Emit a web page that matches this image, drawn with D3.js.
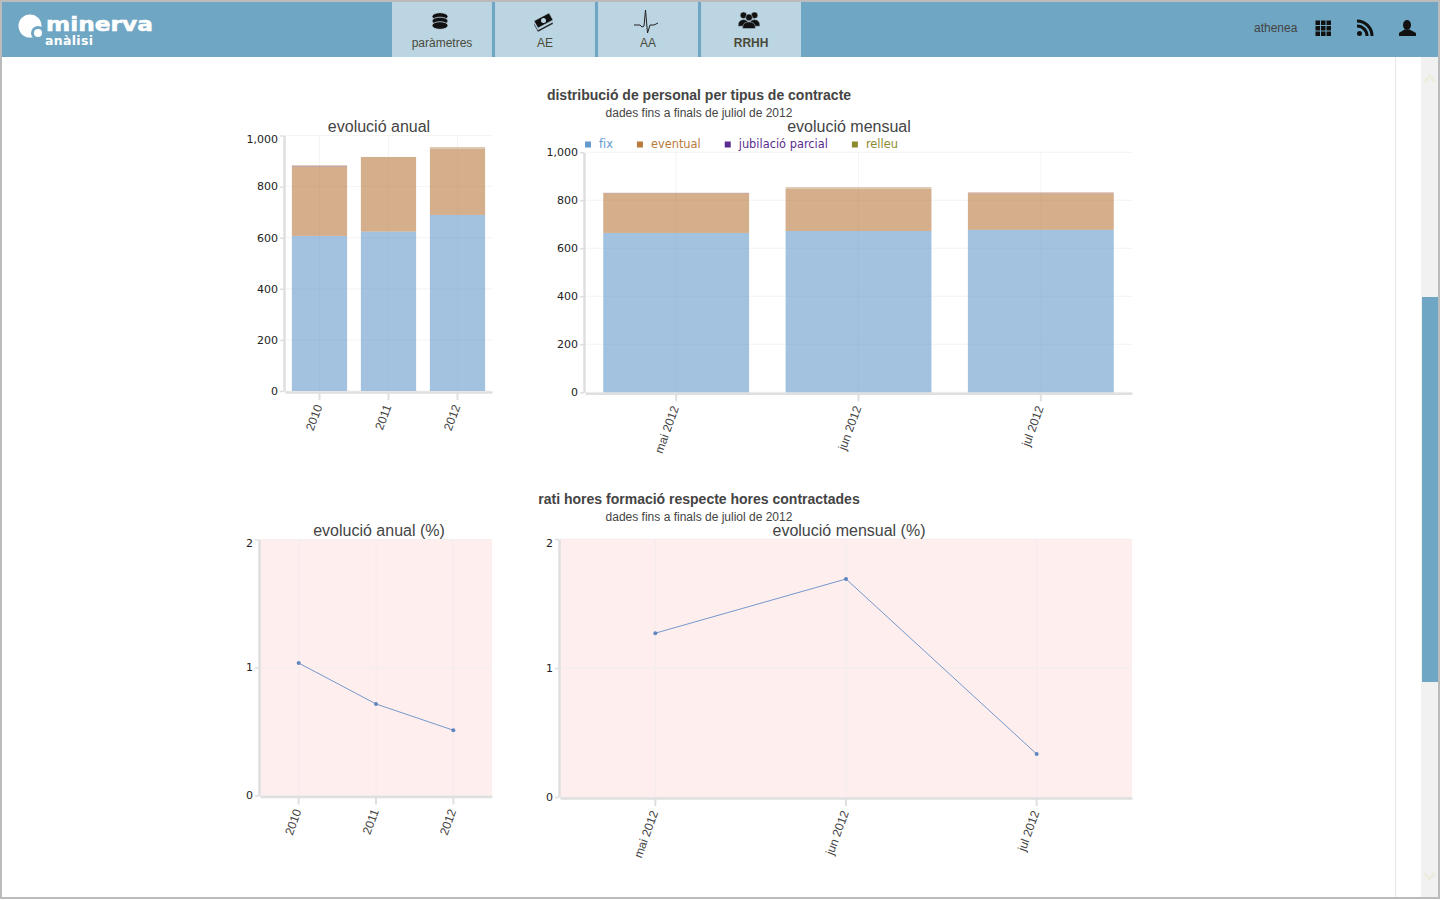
<!DOCTYPE html>
<html lang="ca">
	<head>
		<meta charset="utf-8">
		<title>minerva anàlisi - RRHH</title>
		<script type="text/javascript" src="https://cdn.jsdelivr.net/npm/d3@7/dist/d3.min.js"></script>
		<style type="text/css">
			html, body { margin: 0; padding: 0; background: #fff; overflow: hidden; }
			svg { display: block; }
			text { font-family: "Liberation Sans", Arial, sans-serif; fill: #444; }
			.num { font-family: "DejaVu Sans", sans-serif; font-size: 11px; fill: #222; }
			.axis path, .axis line { stroke: #dfdfdf; fill: none; }
			.grid line { stroke: #ececec; stroke-opacity: 0.6; }
		</style>
	</head>
	<body>
		<script type="text/javascript">

			//Data
			var years = ["2010", "2011", "2012"];
			var months = ["mai 2012", "jun 2012", "jul 2012"];
			var seriesNames = ["fix", "eventual", "jubilació parcial", "relleu"];
			var seriesColors = ["#6699cc", "#b97a3e", "#5b2c8f", "#8b8b2e"];
			var barColors = ["#6699cc", "#b97a3e", "#5b2c8f", "#c4a27a"];

			var fixAnnual = [607, 624, 689];
			var eventualAnnual = [272, 292, 259];
			var jubilacioAnnual = [2, 0, 0];
			var relleuAnnual = [3, 0, 7];

			var fixMonthly = [664, 672, 677];
			var eventualMonthly = [166, 176, 152];
			var jubilacioMonthly = [1, 0, 1];
			var relleuMonthly = [0, 7, 4];

			var ratioAnnual = [1.035, 0.715, 0.51];
			var ratioMonthly = [1.27, 1.69, 0.333];

			var barTicks = [0, 200, 400, 600, 800, 1000];
			var ratioTicks = [0, 1, 2];
			var tabNames = ["paràmetres", "AE", "AA", "RRHH"];

			var w = 1440;
			var h = 900;
			var headerColor = "#6fa6c3";
			var tabColor = "#bcd5e3";

			var svg = d3.select("body")
						.append("svg")
						.attr("width", w)
						.attr("height", h);

			//Puts x axis, y axis and grid in place
			function drawAxes(g, x, y, ticks, box, format, nudgeTop) {
				var grid = g.append("g").attr("class", "grid");
				grid.selectAll(".gy")
					.data(ticks)
					.enter()
					.append("line")
					.attr("x1", box.left)
					.attr("x2", box.right)
					.attr("y1", function(d) { return y(d); })
					.attr("y2", function(d) { return y(d); });
				grid.selectAll(".gx")
					.data(x.domain())
					.enter()
					.append("line")
					.attr("x1", function(d) { return x(d) + x.bandwidth() / 2; })
					.attr("x2", function(d) { return x(d) + x.bandwidth() / 2; })
					.attr("y1", box.top)
					.attr("y2", box.bottom);

				var yAxis = g.append("g")
					.attr("class", "axis")
					.attr("transform", "translate(" + (box.left - 1) + ",0)")
					.call(d3.axisLeft(y).tickValues(ticks).tickFormat(format).tickSizeInner(4).tickSizeOuter(0).tickPadding(2));
				yAxis.select("path").attr("stroke-width", 2.5);
				yAxis.selectAll("line").attr("stroke-width", 1.5);
				yAxis.selectAll("text")
					.attr("class", "num")
					.attr("dy", function(d) {
						return (nudgeTop && d == ticks[ticks.length - 1]) ? "0.66em" : "0.3em";
					});

				var xAxis = g.append("g")
					.attr("class", "axis")
					.attr("transform", "translate(0," + (box.bottom + 1) + ")")
					.call(d3.axisBottom(x).tickSizeInner(8).tickSizeOuter(0));
				xAxis.select("path").attr("stroke-width", 2.5);
				xAxis.selectAll("line").attr("stroke-width", 2);
				xAxis.selectAll("text")
					.attr("text-anchor", "end")
					.attr("font-size", "12px")
					.attr("font-family", "'Liberation Sans', Arial, sans-serif")
					.attr("fill", "#333")
					.attr("transform", "translate(-1,13) rotate(-70)")
					.attr("x", 0)
					.attr("y", 0)
					.attr("dy", "0.35em");
			}

			//Stacked bars with the four contract types
			function barChart(box, cats, rows, nudgeTop) {
				var g = svg.append("g");
				var x = d3.scaleBand().domain(cats).range([box.left, box.right]).paddingInner(0.2).paddingOuter(0.1);
				var y = d3.scaleLinear().domain([0, 1000]).range([box.bottom, box.top]);
				drawAxes(g, x, y, barTicks, box, d3.format(","), nudgeTop);

				var table = cats.map(function(c, i) {
					var row = { cat: c };
					seriesNames.forEach(function(s, k) { row[s] = rows[k][i]; });
					return row;
				});
				var stacked = d3.stack().keys(seriesNames)(table);

				g.selectAll(".serie")
					.data(stacked)
					.enter()
					.append("g")
					.attr("fill", function(d, i) { return barColors[i]; })
					.attr("fill-opacity", 0.6)
					.selectAll("rect")
					.data(function(d) { return d; })
					.enter()
					.append("rect")
					.attr("x", function(d) { return x(d.data.cat); })
					.attr("width", x.bandwidth())
					.attr("y", function(d) { return y(d[1]); })
					.attr("height", function(d) { return y(d[0]) - y(d[1]); });
			}

			//Line on a pink plot area
			function ratioChart(box, cats, values) {
				var g = svg.append("g");
				var x = d3.scaleBand().domain(cats).range([box.left, box.right]);
				var y = d3.scaleLinear().domain([0, 2]).range([box.bottom, box.top]);

				g.append("rect")
					.attr("x", box.left)
					.attr("y", box.top)
					.attr("width", box.right - box.left)
					.attr("height", box.bottom - box.top)
					.attr("fill", "#feeeee");

				drawAxes(g, x, y, ratioTicks, box, d3.format("d"), true);

				var cx = function(d, i) { return x(cats[i]) + x.bandwidth() / 2; };
				var line = d3.line().x(cx).y(function(d) { return y(d); });

				g.append("path")
					.datum(values)
					.attr("d", line)
					.attr("fill", "none")
					.attr("stroke", "#7498cc")
					.attr("stroke-width", 1);

				g.selectAll("circle")
					.data(values)
					.enter()
					.append("circle")
					.attr("cx", cx)
					.attr("cy", function(d) { return y(d); })
					.attr("r", 2)
					.attr("fill", "#5f86c0");
			}

			function label(txt, x, y, size, anchor, weight) {
				return svg.append("text")
					.text(txt)
					.attr("x", x)
					.attr("y", y)
					.attr("font-size", size + "px")
					.attr("text-anchor", anchor)
					.attr("font-weight", weight || "normal");
			}

			//Charts
			barChart({ left: 285, right: 492, top: 135.5, bottom: 391 }, years,
				[fixAnnual, eventualAnnual, jubilacioAnnual, relleuAnnual], true);
			barChart({ left: 585, right: 1132, top: 152.3, bottom: 392.3 }, months,
				[fixMonthly, eventualMonthly, jubilacioMonthly, relleuMonthly], false);
			ratioChart({ left: 260, right: 492, top: 539.5, bottom: 795.5 }, years, ratioAnnual);
			ratioChart({ left: 560, right: 1132, top: 539, bottom: 797 }, months, ratioMonthly);

			//Titles
			label("distribució de personal per tipus de contracte", 699, 100, 14, "middle", "bold");
			label("dades fins a finals de juliol de 2012", 699, 117, 12, "middle");
			label("evolució anual", 379, 132, 16, "middle");
			label("evolució mensual", 849, 132, 16, "middle");
			label("rati hores formació respecte hores contractades", 699, 504, 14, "middle", "bold");
			label("dades fins a finals de juliol de 2012", 699, 521, 12, "middle");
			label("evolució anual (%)", 379, 536, 16, "middle");
			label("evolució mensual (%)", 849, 536, 16, "middle");

			//Legend, each entry starts after the previous text
			var legendX = 585;
			seriesNames.forEach(function(name, i) {
				svg.append("rect")
					.attr("x", legendX)
					.attr("y", 141.5)
					.attr("width", 6)
					.attr("height", 6)
					.attr("fill", seriesColors[i]);
				var t = svg.append("text")
					.text(name)
					.attr("x", legendX + 14)
					.attr("y", 148)
					.attr("font-size", "11.4px")
					.style("font-family", "'DejaVu Sans', sans-serif")
					.style("fill", seriesColors[i]);
				legendX += 14 + t.node().getComputedTextLength() + 24;
			});

			//Scroll bar
			svg.append("rect").attr("x", 1395).attr("y", 57).attr("width", 1).attr("height", 840).attr("fill", "#e6e6e6");
			svg.append("rect").attr("x", 1421).attr("y", 57).attr("width", 17).attr("height", 840).attr("fill", "#f1f1f1");
			svg.append("rect").attr("x", 1422).attr("y", 297).attr("width", 16).attr("height", 385).attr("fill", headerColor);
			svg.append("path").attr("d", "M1424.5 82l5-6 5 6").attr("fill", "none").attr("stroke", "#ededdf").attr("stroke-width", 3);
			svg.append("path").attr("d", "M1424.5 873l5 6 5-6").attr("fill", "none").attr("stroke", "#ededdf").attr("stroke-width", 3);

			//Header band
			svg.append("rect").attr("x", 0).attr("y", 0).attr("width", w).attr("height", 57).attr("fill", headerColor);

			var tabX = d3.scaleBand().domain(tabNames).range([392, 801]).paddingInner(0.03).paddingOuter(0);
			var tabs = svg.selectAll(".tab")
				.data(tabNames)
				.enter()
				.append("g")
				.attr("transform", function(d) { return "translate(" + tabX(d) + ",2)"; });
			tabs.append("rect")
				.attr("width", tabX.bandwidth())
				.attr("height", 55)
				.attr("fill", tabColor);
			tabs.append("text")
				.text(function(d) { return d; })
				.attr("x", 50)
				.attr("y", 45)
				.attr("text-anchor", "middle")
				.attr("font-size", "12px")
				.attr("font-weight", function(d) { return d == "RRHH" ? "bold" : "normal"; })
				.style("fill", "#4a4a3a");

			//Logo, both words in one text element
			svg.append("circle").attr("cx", 30).attr("cy", 26).attr("r", 11.5).attr("fill", "#fff");
			svg.append("circle").attr("cx", 38).attr("cy", 33).attr("r", 7).attr("fill", headerColor);
			svg.append("circle").attr("cx", 38).attr("cy", 33).attr("r", 4).attr("fill", "#fff");
			var logo = svg.append("text")
				.style("font-family", "'DejaVu Sans', sans-serif")
				.style("fill", "#fff")
				.attr("font-weight", "bold");
			logo.append("tspan").text("minerva")
				.attr("x", 46).attr("y", 31)
				.attr("textLength", 107).attr("lengthAdjust", "spacingAndGlyphs")
				.attr("font-size", "19px")
				.style("stroke", "#fff").style("stroke-width", 0.5);
			logo.append("tspan").text("anàlisi")
				.attr("x", 45).attr("y", 45)
				.attr("textLength", 48)
				.attr("font-size", "12.5px");

			//Tab icons
			[16.5, 21, 25.5].forEach(function(cy) {
				svg.append("ellipse").attr("cx", 440).attr("cy", cy).attr("rx", 8).attr("ry", 3.8)
					.attr("fill", "#111").attr("stroke", tabColor).attr("stroke-width", 0.8);
			});
			svg.append("path").attr("d", "M534 21l15-8 4 7-15 8z M534 23l4 7 15-8 0 2-15 8-4-7z")
				.attr("fill", "#111").attr("stroke", tabColor).attr("stroke-width", 0.5);
			svg.append("circle").attr("cx", 543.5).attr("cy", 20.5).attr("r", 2.5).attr("fill", tabColor);
			svg.append("path").attr("d", "M634 25h6l2 2 2-1 1.5-16 2 23 2.500-8h4l4-2")
				.attr("fill", "none").attr("stroke", "#222").attr("stroke-width", 1);
			function person(cx, top, r, sh, color) {
				svg.append("circle").attr("cx", cx).attr("cy", top + r).attr("r", r).attr("fill", color)
					.attr("stroke", tabColor).attr("stroke-width", 0.5);
				svg.append("path")
					.attr("d", "M" + (cx - sh) + " " + (top + r * 4.3) + "q0 -" + (r * 2) + " " + sh + " -" + (r * 2) + "q" + sh + " 0 " + sh + " " + (r * 2) + "z")
					.attr("fill", color)
					.attr("stroke", tabColor).attr("stroke-width", 0.5);
			}
			person(743.5, 12, 3.3, 5.5, "#111");
			person(754.5, 12, 3.3, 5.5, "#111");
			person(749, 14, 3.4, 6.5, "#111");

			//Right side of the header
			svg.append("text").text("athenea")
				.attr("x", 1254).attr("y", 32)
				.attr("font-size", "12px")
				.style("fill", "#444");
			d3.range(9).forEach(function(i) {
				svg.append("rect")
					.attr("x", 1315.5 + (i % 3) * 5.5)
					.attr("y", 20.5 + Math.floor(i / 3) * 5.5)
					.attr("width", 4.5)
					.attr("height", 4.5)
					.attr("fill", "#111");
			});
			svg.append("circle").attr("cx", 1359.5).attr("cy", 33.5).attr("r", 2.5).attr("fill", "#111");
			svg.append("path").attr("d", "M1357 26a10 10 0 0 1 10 10 M1357 21a15 15 0 0 1 15 15")
				.attr("fill", "none").attr("stroke", "#111").attr("stroke-width", 3);
			svg.append("ellipse").attr("cx", 1407).attr("cy", 25).attr("rx", 4).attr("ry", 5).attr("fill", "#111");
			svg.append("path").attr("d", "M1399 36v-3l5.500-3.500h5l6.500 3.500v3z").attr("fill", "#111");

			//Window frame
			svg.append("rect")
				.attr("x", 1)
				.attr("y", 1)
				.attr("width", w - 2)
				.attr("height", 897)
				.attr("fill", "none")
				.attr("stroke", "#bbb")
				.attr("stroke-width", 2);
			svg.append("rect").attr("x", 0).attr("y", 899).attr("width", w).attr("height", 1).attr("fill", "#fff");

		</script>
	</body>
</html>
